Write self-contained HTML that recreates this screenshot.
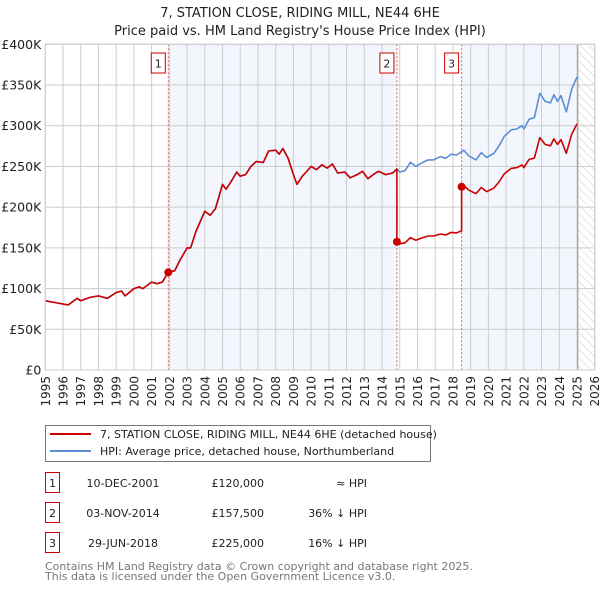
<!DOCTYPE html>
<html><head><meta charset="utf-8"><style>
body{margin:0;background:#fff;font-family:"Liberation Sans","DejaVu Sans",sans-serif;}
#wrap{position:relative;width:600px;height:590px;overflow:hidden;}
svg text{font-family:"DejaVu Sans","Liberation Sans",sans-serif;}
</style></head><body>
<div id="wrap">
<svg id="chart" width="600" height="590"></svg>
</div>
<script>
const hpiYears=[1995,1995.5,1996,1996.3,1996.8,1997,1997.5,1998,1998.5,1999,1999.3,1999.5,2000,2000.3,2000.5,2001,2001.3,2001.6,2001.94,2002.3,2002.6,2003,2003.2,2003.5,2004,2004.3,2004.6,2005,2005.2,2005.5,2005.8,2006,2006.3,2006.6,2006.9,2007.3,2007.6,2008,2008.2,2008.4,2008.7,2009,2009.2,2009.5,2009.8,2010,2010.3,2010.6,2010.9,2011.2,2011.5,2011.9,2012.2,2012.6,2012.9,2013.2,2013.5,2013.8,2014.2,2014.6,2014.84,2015,2015.3,2015.6,2015.9,2016.3,2016.6,2016.9,2017.3,2017.6,2017.9,2018.2,2018.49,2018.6,2018.9,2019.3,2019.6,2019.9,2020.3,2020.6,2020.9,2021.3,2021.6,2021.9,2022,2022.3,2022.6,2022.9,2023.2,2023.5,2023.7,2023.9,2024.1,2024.4,2024.7,2025];
const hpiValues=[85,83,81,80,88,85,89,91,88,95,97,91,100,102,100,108,106,108,120,122,135,150,150,170,195,190,198,228,222,232,243,238,240,250,256,255,269,270,265,272,260,240,228,238,245,250,246,252,248,253,242,243,236,240,244,235,240,244,240,242,247,243,245,255,250,255,258,258,262,260,265,264,268,270,263,258,267,261,266,275,287,295,296,300,296,308,310,340,330,328,338,330,337,317,345,360];
const saleYears=[2001.94,2014.84,2018.49];
const salePrices=[120,157.5,225];
const saleLabels=["1","2","3"];
const yTicks=[0,50,100,150,200,250,300,350,400];
const yTickLabels=["£0","£50K","£100K","£150K","£200K","£250K","£300K","£350K","£400K"];
const xTicks=[];for(let y=1995;y<=2026;y++)xTicks.push(y);

const L=45.3,R=594.7,T=44.3,B=370;
const X=v=>L+(v-1995)/(2026-1995)*(R-L);
const Y=v=>B-v/400*(B-T);
const svg=document.getElementById('chart');
const NS='http://www.w3.org/2000/svg';
function el(tag,attrs,parent){const e=document.createElementNS(NS,tag);for(const k in attrs)e.setAttribute(k,attrs[k]);(parent||svg).appendChild(e);return e;}

// defs hatch
const defs=el('defs',{});
const pat=el('pattern',{id:'hatch',width:6,height:6,patternUnits:'userSpaceOnUse',patternTransform:'rotate(-45)'},defs);
el('line',{x1:0,y1:0,x2:0,y2:6,stroke:'#ccc','stroke-width':1},pat);

// shaded bands
const b1=el('rect',{x:X(saleYears[0]),y:T,width:X(saleYears[1])-X(saleYears[0]),height:B-T,fill:'#eef3fc',opacity:0.7});


const b2=el('rect',{x:X(saleYears[2]),y:T,width:X(2025.05)-X(saleYears[2]),height:B-T,fill:'#eef3fc',opacity:0.7});


const hz=el('rect',{x:X(2025.05),y:T,width:R-X(2025.05),height:B-T,fill:'url(#hatch)'});



// grid
xTicks.forEach(t=>{const g=el('line',{x1:X(t),x2:X(t),y1:T,y2:B,stroke:'#ccc','stroke-width':1});


const tx=el('text',{x:0,y:0,'font-size':12,fill:'#222','text-anchor':'end',transform:`translate(${X(t)+4.5},${B+6}) rotate(-90)`});tx.textContent=t;

});
yTicks.forEach((t,i)=>{const g=el('line',{x1:L,x2:R,y1:Y(t),y2:Y(t),stroke:'#ccc','stroke-width':1});


const tx=el('text',{x:L-4,y:Y(t)+4.5,'font-size':12.5,fill:'#222','text-anchor':'end'});tx.textContent=yTickLabels[i];

});
el('line',{x1:X(2025.05),x2:X(2025.05),y1:T,y2:B,stroke:'#999','stroke-width':1});

// sale vertical lines & labels
saleYears.forEach((s,i)=>{const l=el('line',{x1:X(s),x2:X(s),y1:T,y2:B,stroke:'#e06060','stroke-width':1,'stroke-dasharray':'2,2'});


const r=el('rect',{x:X(s)-17,y:53,width:14,height:20,fill:'#fff',stroke:'#cc0000','stroke-width':1});


const t=el('text',{x:X(s)-10,y:67.5,'font-size':11,'text-anchor':'middle',fill:'#222'});t.textContent=saleLabels[i];

});

// HPI line
function hpiAt(y){for(let i=0;i<hpiYears.length-1;i++){if(y>=hpiYears[i]&&y<=hpiYears[i+1]){const f=(y-hpiYears[i])/(hpiYears[i+1]-hpiYears[i]);return hpiValues[i]+f*(hpiValues[i+1]-hpiValues[i]);}}return hpiValues[hpiValues.length-1];}
const hp=hpiYears.map((y,i)=>X(y).toFixed(1)+','+Y(hpiValues[i]).toFixed(1)).join(' ');
const hl=el('polyline',{points:hp,fill:'none',stroke:'#5b8fd4','stroke-width':1.6,'stroke-linejoin':'round'});



// property line: indexed from each sale
const pts=[];
hpiYears.forEach((y,i)=>{let k=-1;for(let j=0;j<saleYears.length;j++)if(y>=saleYears[j]-1e-9)k=j;
let v;if(k<=0)v=hpiValues[i];else v=hpiValues[i]*salePrices[k]/hpiAt(saleYears[k]);
for(let j=1;j<saleYears.length;j++){if(Math.abs(y-saleYears[j])<1e-9){const pk=j-1;const pv=pk<=0?hpiValues[i]:hpiValues[i]*salePrices[pk]/hpiAt(saleYears[pk]);pts.push([y,pv]);}}
pts.push([y,v]);});
const rl=el('polyline',{points:pts.map(p=>X(p[0]).toFixed(1)+','+Y(p[1]).toFixed(1)).join(' '),fill:'none',stroke:'#cc0000','stroke-width':1.6,'stroke-linejoin':'round'});


saleYears.forEach((s,i)=>{const c=el('circle',{cx:X(s),cy:Y(salePrices[i]),r:4,fill:'#cc0000'});

});

// plot border
el('rect',{x:L,y:T,width:R-L,height:B-T,fill:'none',stroke:'#ccc','stroke-width':1});

// titles
const t1=el('text',{x:300,y:17,'font-size':13,'text-anchor':'middle',fill:'#222'});t1.textContent='7, STATION CLOSE, RIDING MILL, NE44 6HE';


const t2=el('text',{x:300,y:35,'font-size':13,'text-anchor':'middle',fill:'#222'});t2.textContent="Price paid vs. HM Land Registry's House Price Index (HPI)";



// legend
const lg=el('g',{});


el('rect',{x:45.5,y:425.5,width:385,height:36,fill:'#fff',stroke:'#777','stroke-width':1},lg);
el('line',{x1:50,x2:91,y1:434,y2:434,stroke:'#cc0000','stroke-width':2},lg);
el('line',{x1:50,x2:91,y1:451,y2:451,stroke:'#5b8fd4','stroke-width':2},lg);
const lt1=el('text',{x:100,y:438,'font-size':11,fill:'#222'},lg);lt1.textContent='7, STATION CLOSE, RIDING MILL, NE44 6HE (detached house)';


const lt2=el('text',{x:100,y:455,'font-size':11,fill:'#222'},lg);lt2.textContent='HPI: Average price, detached house, Northumberland';



// table
const rows=[["1","10-DEC-2001","£120,000","≈ HPI"],["2","03-NOV-2014","£157,500","36% ↓ HPI"],["3","29-JUN-2018","£225,000","16% ↓ HPI"]];
rows.forEach((r,i)=>{const y=483+i*30;
const bx=el('rect',{x:45.5,y:y-10.5,width:14,height:20,fill:'#fff',stroke:'#cc0000','stroke-width':1});


const a=el('text',{x:52.5,y:y+4,'font-size':11,'text-anchor':'middle',fill:'#222'});a.textContent=r[0];
const b=el('text',{x:123,y:y+4,'font-size':11,'text-anchor':'middle',fill:'#222'});b.textContent=r[1];


const c=el('text',{x:264,y:y+4,'font-size':11,'text-anchor':'end',fill:'#222'});c.textContent=r[2];


const d=el('text',{x:367,y:y+4,'font-size':11,'text-anchor':'end',fill:'#222'});d.textContent=r[3];

});

const f1=el('text',{x:45,y:570,'font-size':11,fill:'#777'});f1.textContent='Contains HM Land Registry data © Crown copyright and database right 2025.';


const f2=el('text',{x:45,y:580,'font-size':11,fill:'#777'});f2.textContent='This data is licensed under the Open Government Licence v3.0.';


</script>
</body></html>
